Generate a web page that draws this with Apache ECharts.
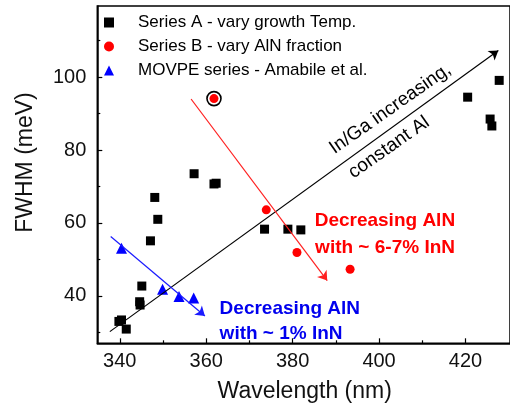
<!DOCTYPE html>
<html>
<head>
<meta charset="utf-8">
<script src="https://cdn.jsdelivr.net/npm/echarts@6/dist/echarts.min.js"></script>
<style>
html,body{margin:0;padding:0;background:#fff;}
#chart{width:510px;height:413px;}
</style>
</head>
<body>
<div id="chart"></div>
<script>
// ---- data ----
const seriesNames = ['Series A - vary growth Temp.', 'Series B - vary AlN fraction', 'MOVPE series - Amabile et al.'];

const seriesA_wl   = [339.8, 340.4, 341.5, 344.6, 344.7, 345.1, 347.1, 348.1, 348.8, 357.2, 361.8, 362.3, 373.5, 378.9, 381.9, 420.5, 425.7, 426.1, 427.8];
const seriesA_fwhm = [33.0, 33.4, 30.9, 38.4, 37.5, 42.7, 55.1, 67.0, 61.0, 73.5, 70.7, 70.9, 58.3, 58.3, 58.1, 94.5, 88.5, 86.6, 99.1];

const seriesB_wl   = [361.8, 373.9, 381.0, 393.3];
const seriesB_fwhm = [94.1, 63.6, 51.9, 47.3];

const movpe_wl   = [340.4, 349.9, 353.7, 357.1];
const movpe_fwhm = [53.1, 41.8, 39.8, 39.4];

const highlightIndexB = 0; // circled point of Series B

// trend arrows: [start, end] in data coordinates
const arrowInGa  = [[337.7, 30.2], [427.6, 107.3]];
const arrowAlN_B = [[356.5, 94.0], [388.0, 44.2]];
const arrowAlN_M = [[337.9, 56.3], [359.7, 34.5]];

// annotation anchors (data coordinates)
const notes = [
  {text: 'In/Ga increasing,', at: [402.6, 91.3], color: '#000', rot: 35, align: 'center', bold: false},
  {text: 'constant Al',       at: [402.3, 80.7], color: '#000', rot: 35, align: 'center', bold: false},
  {text: 'Decreasing AlN',    at: [385.1, 60.7], color: '#ff0000', rot: 0, align: 'left', bold: true},
  {text: 'with ~ 6-7% InN',   at: [385.2, 53.1], color: '#ff0000', rot: 0, align: 'left', bold: true},
  {text: 'Decreasing AlN',    at: [363.1, 36.4], color: '#0000ee', rot: 0, align: 'left', bold: true},
  {text: 'with ~ 1% InN',     at: [363.1, 29.7], color: '#0000ee', rot: 0, align: 'left', bold: true}
];

// axes
const xMin = 334.8, xMax = 430.3;
const yMin = 27.0,  yMax = 119.5;
const xMajor = [340, 360, 380, 400, 420];
const xMinor = [350, 370, 390, 410];
const yMajor = [40, 60, 80, 100];
const yMinor = [30, 50, 70, 90, 110];

const xTitle = 'Wavelength (nm)';
const yTitle = 'FWHM (meV)';

// ---- chart ----
const FONT = '"Liberation Sans", Arial, sans-serif';
const zip = (a, b) => a.map((v, i) => [v, b[i]]);

const chart = echarts.init(document.getElementById('chart'), null, {renderer: 'canvas'});

function arrowLine(pts, color) {
  return {
    silent: true,
    symbol: ['none', 'arrow'],
    symbolSize: 9,
    label: {show: false},
    lineStyle: {color: color, width: 1.2, type: 'solid'},
    itemStyle: {color: color},
    emphasis: {disabled: true},
    animation: false,
    data: [[{coord: pts[0]}, {coord: pts[1]}]]
  };
}

const axisCommon = {
  type: 'value',
  splitLine: {show: false},
  axisLine: {show: true, onZero: false, lineStyle: {color: '#000', width: 1.5}}
};

chart.setOption({
  animation: false,
  backgroundColor: '#fff',
  textStyle: {fontFamily: FONT},
  grid: {left: 97.3, right: -5, top: 6, bottom: 69.7, show: true, borderColor: '#000', borderWidth: 1.5, containLabel: false},
  legend: {
    orient: 'vertical',
    left: 104, top: 14,
    padding: 0,
    itemWidth: 10, itemHeight: 10,
    itemGap: 7,
    selectedMode: false,
    data: seriesNames,
    textStyle: {fontFamily: FONT, fontSize: 17, color: '#000', padding: [0, 0, 0, 19]}
  },
  xAxis: [
    Object.assign({}, axisCommon, {
      min: xMin, max: xMax, position: 'bottom',
      axisTick: {show: true, inside: true, length: 5, customValues: xMajor, lineStyle: {color: '#000', width: 1.2}},
      axisLabel: {customValues: xMajor, fontSize: 20, color: '#111', margin: 8, fontFamily: FONT}
    }),
    Object.assign({}, axisCommon, {
      min: xMin, max: xMax, position: 'bottom',
      axisLine: {show: false},
      axisTick: {show: true, inside: true, length: 3, customValues: xMinor, lineStyle: {color: '#000', width: 1.2}},
      axisLabel: {show: false}
    })
  ],
  yAxis: [
    Object.assign({}, axisCommon, {
      min: yMin, max: yMax, position: 'left',
      axisTick: {show: true, inside: true, length: 5, customValues: yMajor, lineStyle: {color: '#000', width: 1.2}},
      axisLabel: {customValues: yMajor, fontSize: 20, color: '#111', margin: 11, fontFamily: FONT}
    }),
    Object.assign({}, axisCommon, {
      min: yMin, max: yMax, position: 'left',
      axisLine: {show: false},
      axisTick: {show: true, inside: true, length: 3, customValues: yMinor, lineStyle: {color: '#000', width: 1.2}},
      axisLabel: {show: false}
    })
  ],
  series: [
    {
      name: seriesNames[0], type: 'scatter', symbol: 'rect', symbolSize: 9,
      itemStyle: {color: '#000', opacity: 1},
      data: zip(seriesA_wl, seriesA_fwhm),
      markLine: arrowLine(arrowInGa, '#000'),
      z: 3
    },
    {
      name: seriesNames[1], type: 'scatter', symbol: 'circle', symbolSize: 9,
      itemStyle: {color: '#ff0000', opacity: 1},
      data: zip(seriesB_wl, seriesB_fwhm),
      markLine: arrowLine(arrowAlN_B, '#ff2020'),
      z: 3
    },
    {
      name: seriesNames[2], type: 'scatter', symbol: 'triangle', symbolSize: 11,
      itemStyle: {color: '#0000ff', opacity: 1},
      data: zip(movpe_wl, movpe_fwhm),
      markLine: arrowLine(arrowAlN_M, '#1a1aff'),
      z: 3
    },
    {
      name: 'highlight', type: 'scatter', symbol: 'circle', symbolSize: 14,
      itemStyle: {color: 'rgba(0,0,0,0)', borderColor: '#000', borderWidth: 1.6, opacity: 1},
      data: [[seriesB_wl[highlightIndexB], seriesB_fwhm[highlightIndexB]]],
      z: 2, silent: true
    }
  ]
});

// annotations placed through the chart's own coordinate conversion
const graphics = notes.map(n => {
  const p = chart.convertToPixel({gridIndex: 0}, n.at);
  return {
    type: 'text',
    x: p[0], y: p[1],
    rotation: n.rot * Math.PI / 180,
    style: {
      text: n.text,
      fill: n.color,
      font: (n.bold ? 'bold ' : '') + '19px ' + FONT,
      align: n.align,
      verticalAlign: 'middle'
    },
    z: 10
  };
});
graphics.push({
  type: 'text', x: 304.7, y: 391.7,
  style: {text: xTitle, fill: '#111', font: '23px ' + FONT, align: 'center', verticalAlign: 'middle'}
});
graphics.push({
  type: 'text', x: 26, y: 162.5, rotation: Math.PI / 2,
  style: {text: yTitle, fill: '#111', font: '23px ' + FONT, align: 'center', verticalAlign: 'middle'}
});
chart.setOption({graphic: graphics});
</script>
</body>
</html>
